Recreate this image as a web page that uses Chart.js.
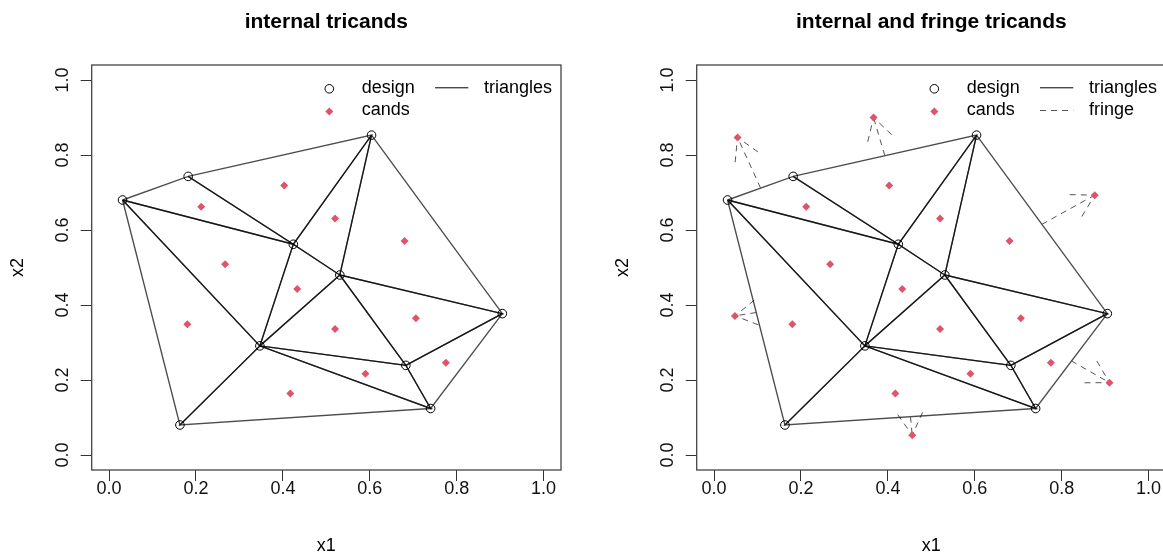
<!DOCTYPE html>
<html>
<head>
<meta charset="utf-8">
<title>tricands</title>
<script src="https://cdn.jsdelivr.net/npm/chart.js@4"></script>
<style>
  html, body { margin: 0; padding: 0; background: #fff; overflow: hidden; width: 1163px; height: 557px; }
  .panel { position: absolute; top: 0; width: 581px; height: 557px; }
  #p1 { left: 0; }
  #p2 { left: 605px; }
</style>
</head>
<body>
<div class="panel" id="p1"><canvas id="leftChart"></canvas></div>
<div class="panel" id="p2"><canvas id="rightChart"></canvas></div>
<script>
/* ---- data ---- */
const designX = [0.031, 0.182, 0.604, 0.424, 0.531, 0.905, 0.347, 0.683, 0.740, 0.163];
const designY = [0.680, 0.743, 0.853, 0.562, 0.480, 0.377, 0.291, 0.239, 0.124, 0.080];

// triangles as indices into the design arrays
const triangles = [
  [0, 1, 3], [1, 2, 3], [2, 3, 4], [2, 4, 5], [0, 3, 6], [0, 6, 9],
  [3, 4, 6], [4, 5, 7], [4, 6, 7], [5, 7, 8], [6, 7, 8], [6, 8, 9]
];

// internal candidates
const candX = [0.403, 0.212, 0.520, 0.680, 0.267, 0.433, 0.180, 0.706, 0.520, 0.775, 0.590, 0.417];
const candY = [0.719, 0.662, 0.631, 0.571, 0.509, 0.443, 0.349, 0.365, 0.336, 0.246, 0.217, 0.164];

// fringe candidates and the hull-edge midpoints their arrows start from
const fringeX = [0.054, 0.367, 0.876, 0.910, 0.456, 0.048];
const fringeY = [0.847, 0.900, 0.693, 0.193, 0.053, 0.371];
const midX    = [0.107, 0.393, 0.754, 0.822, 0.452, 0.097];
const midY    = [0.712, 0.798, 0.615, 0.251, 0.102, 0.380];

const tickVals = [0, 0.2, 0.4, 0.6, 0.8, 1.0];
const legendLabels = ['design', 'cands', 'triangles', 'fringe'];

/* ---- styles ---- */
const FONT = "'Liberation Sans', Arial, Helvetica, sans-serif";
const RED = '#DF536B';
Chart.defaults.font.family = FONT;
Chart.defaults.color = '#000';

/* box around the plot region, like R's box() */
const boxPlugin = {
  id: 'rbox',
  afterDraw(chart) {
    const { ctx, chartArea: a } = chart;
    ctx.save();
    ctx.strokeStyle = '#444';
    ctx.lineWidth = 1.3;
    ctx.strokeRect(a.left, a.top, a.right - a.left, a.bottom - a.top);
    ctx.restore();
  }
};

/* dashed arrow heads at the fringe candidates */
const arrowPlugin = {
  id: 'arrowHeads',
  beforeDatasetsDraw(chart, args, opts) {
    if (!opts.show) return;
    const { ctx, scales: { x, y } } = chart;
    ctx.save();
    ctx.strokeStyle = '#555';
    ctx.lineWidth = 1;
    ctx.setLineDash([6, 5]);
    fringeX.forEach((fx, i) => {
      const x0 = x.getPixelForValue(midX[i]), y0 = y.getPixelForValue(midY[i]);
      const x1 = x.getPixelForValue(fx), y1 = y.getPixelForValue(fringeY[i]);
      const ang = Math.atan2(y1 - y0, x1 - x0) + Math.PI;
      const len = 25, spread = Math.PI / 6;
      ctx.beginPath();
      ctx.moveTo(x1 + len * Math.cos(ang - spread), y1 + len * Math.sin(ang - spread));
      ctx.lineTo(x1, y1);
      ctx.lineTo(x1 + len * Math.cos(ang + spread), y1 + len * Math.sin(ang + spread));
      ctx.stroke();
    });
    ctx.restore();
  }
};

/* R style legend: two columns, top right, no frame */
const legendPlugin = {
  id: 'rlegend',
  afterDraw(chart, args, opts) {
    const { ctx, chartArea: a } = chart;
    const rows = [a.top + 22.8, a.top + 45.5];
    ctx.save();
    ctx.font = '18px ' + FONT;
    ctx.textBaseline = 'middle';
    ctx.textAlign = 'left';
    opts.items.forEach(it => {
      const yy = rows[it.row];
      const sx = it.col === 0 ? a.right - 231.7 : a.right - 126;
      const tx = it.col === 0 ? a.right - 199.3 : a.right - 77;
      if (it.kind === 'circle') {
        ctx.strokeStyle = '#000'; ctx.lineWidth = 1; ctx.setLineDash([]);
        ctx.beginPath(); ctx.arc(sx, yy + 1, 4.3, 0, Math.PI * 2); ctx.stroke();
      } else if (it.kind === 'diamond') {
        ctx.fillStyle = RED;
        ctx.beginPath();
        ctx.moveTo(sx, yy - 3); ctx.lineTo(sx + 4, yy + 1); ctx.lineTo(sx, yy + 5); ctx.lineTo(sx - 4, yy + 1);
        ctx.closePath(); ctx.fill();
      } else {
        ctx.strokeStyle = it.kind === 'dashed' ? '#555' : '#000';
        ctx.lineWidth = 1;
        ctx.setLineDash(it.kind === 'dashed' ? [6, 5] : []);
        ctx.beginPath(); ctx.moveTo(sx, yy); ctx.lineTo(sx + 33.3, yy); ctx.stroke();
      }
      ctx.fillStyle = '#000';
      ctx.fillText(it.label, tx, yy);
    });
    ctx.restore();
  }
};

function pts(xs, ys) {
  return xs.map((v, i) => ({ x: v, y: ys[i] }));
}

function buildDatasets(withFringe) {
  const sets = [];
  sets.push({
    label: 'cands',
    data: pts(candX, candY).concat(withFringe ? pts(fringeX, fringeY) : []),
    pointStyle: 'rectRot', pointRadius: 4, pointBackgroundColor: RED,
    pointBorderColor: RED, pointBorderWidth: 0, order: 0
  });
  sets.push({
    label: 'design',
    data: pts(designX, designY),
    pointStyle: 'circle', pointRadius: 4.3, pointBackgroundColor: 'rgba(0,0,0,0)',
    pointBorderColor: '#000', pointBorderWidth: 1, order: 1
  });
  if (withFringe) {
    fringeX.forEach((fx, i) => {
      sets.push({
        label: 'fringe',
        data: [{ x: midX[i], y: midY[i] }, { x: fx, y: fringeY[i] }],
        showLine: true, borderColor: '#555', borderWidth: 1, borderDash: [6, 5],
        pointRadius: 0, order: 2
      });
    });
  }
  triangles.forEach(t => {
    sets.push({
      label: 'triangles',
      data: [t[0], t[1], t[2], t[0]].map(k => ({ x: designX[k], y: designY[k] })),
      showLine: true, borderColor: 'rgba(0,0,0,0.7)', borderWidth: 1.35,
      pointRadius: 0, order: 3
    });
  });
  return sets;
}

function axis(isX) {
  return {
    type: 'linear',
    min: -0.04,
    max: 1.04,
    afterBuildTicks: s => { s.ticks = tickVals.map(v => ({ value: v })); },
    afterFit: s => { if (isX) s.height = 87; else s.width = 91.7; },
    grid: { drawOnChartArea: false, drawTicks: true, tickLength: 11, color: '#333', lineWidth: 1 },
    border: { display: false },
    ticks: {
      color: '#111',
      font: { size: 18 },
      padding: isX ? 8 : 5,
      autoSkip: false,
      minRotation: isX ? 0 : 90,
      maxRotation: isX ? 0 : 90,
      crossAlign: 'center',
      callback: v => Number(v).toFixed(1)
    },
    title: {
      display: true,
      text: isX ? 'x1' : 'x2',
      color: '#000',
      font: { size: 18 },
      padding: isX ? { top: 0, bottom: 0 } : { top: 7, bottom: 0 }
    }
  };
}

function makeChart(id, title, withFringe) {
  const items = [
    { label: legendLabels[0], kind: 'circle', col: 0, row: 0 },
    { label: legendLabels[1], kind: 'diamond', col: 0, row: 1 },
    { label: legendLabels[2], kind: 'solid', col: 1, row: 0 }
  ];
  if (withFringe) items.push({ label: legendLabels[3], kind: 'dashed', col: 1, row: 1 });

  new Chart(document.getElementById(id), {
    type: 'scatter',
    data: { datasets: buildDatasets(withFringe) },
    options: {
      responsive: true,
      maintainAspectRatio: false,
      animation: false,
      events: [],
      layout: { padding: { left: 0, right: 20, top: 0, bottom: 0 } },
      plugins: {
        legend: { display: false },
        tooltip: { enabled: false },
        title: {
          display: true,
          text: title,
          fullSize: false,
          color: '#000',
          font: { size: 21, weight: 'bold' },
          padding: { top: 9.5, bottom: 30.3 }
        },
        arrowHeads: { show: withFringe },
        rlegend: { items: items }
      },
      scales: { x: axis(true), y: axis(false) }
    },
    plugins: [arrowPlugin, boxPlugin, legendPlugin]
  });
}

makeChart('leftChart', 'internal tricands', false);
makeChart('rightChart', 'internal and fringe tricands', true);
</script>
</body>
</html>
